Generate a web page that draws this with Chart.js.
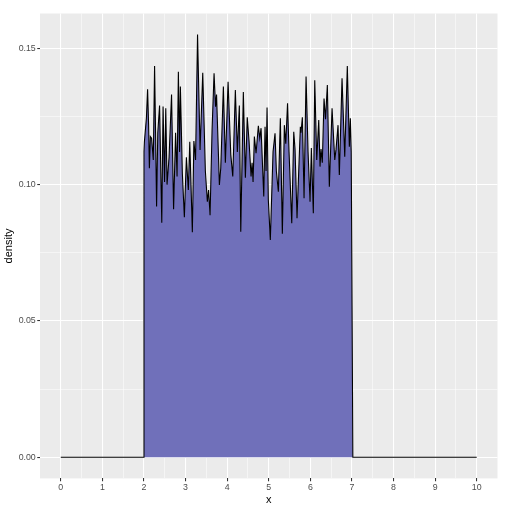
<!DOCTYPE html>
<html>
<head>
<meta charset="utf-8">
<script src="https://cdn.jsdelivr.net/npm/chart.js@4/dist/chart.umd.min.js"></script>
<style>
html,body{margin:0;padding:0;background:#fff;}
#wrap{position:relative;width:507px;height:517px;}
</style>
</head>
<body>
<div id="wrap"><canvas id="c" width="507" height="517"></canvas></div>
<script>
// x positions of the density estimate
const xs = [0, 1.985, 2.0, 2.010, 2.058, 2.087, 2.111, 2.130, 2.154, 2.183, 2.224, 2.255, 2.279, 2.303, 2.332, 2.375,
  2.428, 2.459, 2.495, 2.524, 2.555, 2.603, 2.663, 2.712, 2.760, 2.796, 2.827, 2.856, 2.875, 2.923, 2.971,
  3.019, 3.067, 3.101, 3.163, 3.200, 3.240, 3.288, 3.349, 3.413, 3.476, 3.524, 3.553, 3.589, 3.637, 3.685,
  3.721, 3.745, 3.813, 3.846, 3.909, 3.957, 4.022, 4.087, 4.135, 4.197, 4.245, 4.293, 4.327, 4.389, 4.438,
  4.483, 4.526, 4.575, 4.599, 4.623, 4.654, 4.695, 4.750, 4.784, 4.815, 4.880, 4.911, 4.935, 4.959, 4.990,
  5.038, 5.103, 5.151, 5.183, 5.231, 5.279, 5.327, 5.375, 5.409, 5.452, 5.488, 5.553, 5.601, 5.632, 5.680,
  5.704, 5.760, 5.776, 5.808, 5.849, 5.897, 5.945, 5.993, 6.024, 6.072, 6.106, 6.154, 6.202, 6.233, 6.257,
  6.288, 6.329, 6.365, 6.409, 6.457, 6.522, 6.587, 6.618, 6.666, 6.697, 6.762, 6.827, 6.889, 6.938, 6.962,
  6.983, 7.022, 10];
// density values at those x positions
const density = [0, 0, 0.112, 0.1157, 0.1243, 0.135, 0.122, 0.106, 0.1176, 0.117, 0.109, 0.1435, 0.119, 0.092, 0.119, 0.129,
  0.086, 0.1286, 0.101, 0.128, 0.100, 0.110, 0.133, 0.091, 0.119, 0.103, 0.1414, 0.112, 0.136, 0.104, 0.088,
  0.110, 0.098, 0.1157, 0.0825, 0.116, 0.109, 0.155, 0.1127, 0.141, 0.105, 0.0937, 0.098, 0.0888, 0.120, 0.1408,
  0.1286, 0.133, 0.0999, 0.106, 0.136, 0.108, 0.1377, 0.111, 0.103, 0.1347, 0.112, 0.129, 0.0827, 0.134, 0.1025,
  0.1247, 0.116, 0.103, 0.108, 0.101, 0.1176, 0.1115, 0.1216, 0.117, 0.1207, 0.0956, 0.1212, 0.105, 0.1283, 0.0944,
  0.0797, 0.112, 0.1188, 0.105, 0.0974, 0.1243, 0.082, 0.1218, 0.115, 0.1298, 0.112, 0.0858, 0.1194, 0.113, 0.0877,
  0.098, 0.1212, 0.119, 0.1247, 0.095, 0.1396, 0.112, 0.0937, 0.1134, 0.0895, 0.1383, 0.109, 0.1237, 0.1066, 0.113,
  0.108, 0.1316, 0.124, 0.1365, 0.0992, 0.128, 0.109, 0.113, 0.1218, 0.1035, 0.139, 0.1102, 0.1435, 0.1139, 0.1243,
  0.112, 0, 0];
const xTickLabels = ['0','1','2','3','4','5','6','7','8','9','10'];
const yTickLabels = ['0.00','0.05','0.10','0.15'];
const xTitle = 'x';
const yTitle = 'density';

const points = xs.map((x, i) => ({x: x, y: density[i]}));
const FONT = "'Liberation Sans', Arial, Helvetica, sans-serif";

const isMajorX = v => Math.abs(v - Math.round(v)) < 1e-6 && v >= -1e-6 && v <= 10 + 1e-6;
const isMajorY = v => Math.abs(v / 0.05 - Math.round(v / 0.05)) < 1e-6 && v > -1e-6;
const xLabel = v => { if (!isMajorX(v)) return ''; const k = xTickLabels.indexOf(String(Math.round(v))); return k >= 0 ? xTickLabels[k] : ''; };
const yLabel = v => { if (!isMajorY(v)) return ''; const k = Math.round(v / 0.05); return yTickLabels[k] !== undefined ? yTickLabels[k] : ''; };

const bgPlugin = {
  id: 'bg',
  beforeDraw(chart) {
    const {ctx, chartArea: a} = chart;
    ctx.save();
    ctx.fillStyle = '#ffffff';
    ctx.fillRect(0, 0, chart.width, chart.height);
    ctx.fillStyle = '#EBEBEB';
    ctx.fillRect(a.left, a.top, a.right - a.left, a.bottom - a.top);
    ctx.restore();
  }
};

new Chart(document.getElementById('c'), {
  type: 'line',
  data: {
    datasets: [{
      data: points,
      borderColor: '#000000',
      borderWidth: 1.1,
      backgroundColor: 'rgb(112,112,186)',
      fill: 'origin',
      pointRadius: 0,
      tension: 0
    }]
  },
  plugins: [bgPlugin],
  options: {
    responsive: false,
    animation: false,
    devicePixelRatio: 1,
    layout: {padding: {left: 0, top: 13.5, right: 9.5, bottom: 0}},
    plugins: {legend: {display: false}, tooltip: {enabled: false}},
    scales: {
      x: {
        type: 'linear',
        min: -0.5, max: 10.5,
        afterFit: s => { s.height = 38.6; },
        border: {display: false},
        grid: {
          color: c => (c.tick && c.tick.value >= -1e-6 && c.tick.value <= 10 + 1e-6) ? '#ffffff' : 'rgba(0,0,0,0)',
          lineWidth: c => (c.tick && isMajorX(c.tick.value)) ? 1.07 : 0.53,
          tickColor: c => (c.tick && isMajorX(c.tick.value)) ? '#333333' : 'rgba(0,0,0,0)',
          tickLength: 2.75,
          tickWidth: 1.07,
          drawTicks: true
        },
        ticks: {
          stepSize: 0.5, includeBounds: false, autoSkip: false, maxRotation: 0,
          padding: 1.5, color: '#4D4D4D', font: {family: FONT, size: 8.8},
          callback: v => xLabel(v)
        },
        title: {display: true, text: xTitle, color: '#000000', font: {family: FONT, size: 11, lineHeight: 1}, padding: {top: 0, bottom: 11.5}}
      },
      y: {
        type: 'linear',
        min: -0.00775, max: 0.16275,
        afterFit: s => { s.width = 40; },
        border: {display: false},
        grid: {
          color: c => (c.tick && c.tick.value > -1e-6) ? '#ffffff' : 'rgba(0,0,0,0)',
          lineWidth: c => (c.tick && isMajorY(c.tick.value)) ? 1.07 : 0.53,
          tickColor: c => (c.tick && isMajorY(c.tick.value)) ? '#333333' : 'rgba(0,0,0,0)',
          tickLength: 2.75,
          tickWidth: 1.07,
          drawTicks: true
        },
        ticks: {
          stepSize: 0.025, includeBounds: false, autoSkip: false,
          padding: 1.5, color: '#4D4D4D', font: {family: FONT, size: 8.8},
          callback: v => yLabel(v)
        },
        title: {display: true, text: yTitle, color: '#000000', font: {family: FONT, size: 11, lineHeight: 1}, padding: {top: 3, bottom: 0}}
      }
    }
  }
});
</script>
</body>
</html>
